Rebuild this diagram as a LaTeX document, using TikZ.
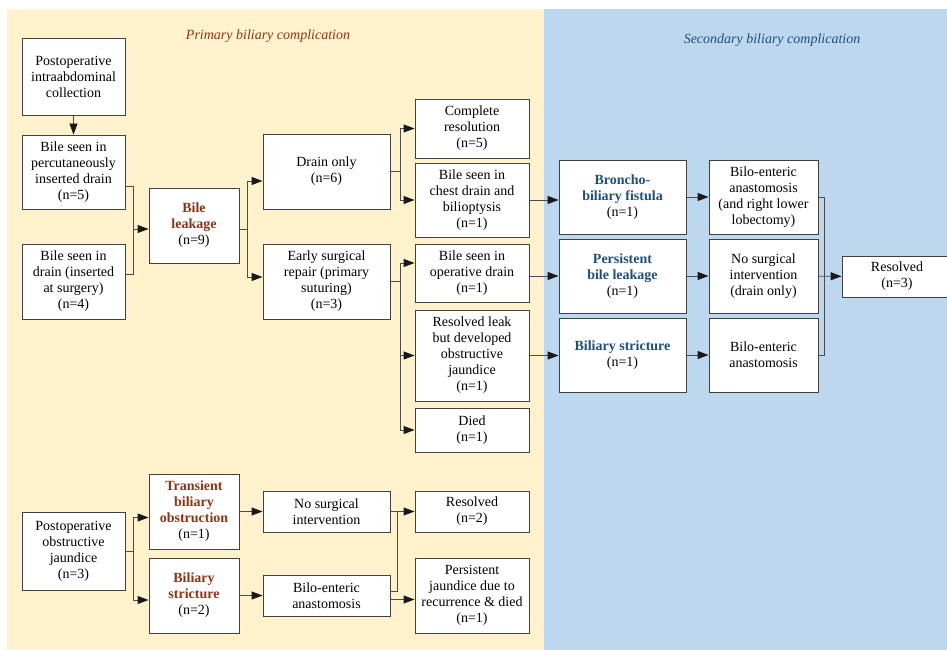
\documentclass[tikz,border=0pt]{standalone}
\usepackage{fontspec}
\setmainfont{Liberation Serif}
\usetikzlibrary{positioning,arrows.meta}
\definecolor{primbg}{HTML}{FFF2CC}
\definecolor{secbg}{HTML}{BDD7EE}
\definecolor{primtxt}{HTML}{8B3516}
\definecolor{sectxt}{HTML}{1F4E79}
\newcommand{\primlab}[1]{\textcolor{primtxt}{\textbf{#1}}}
\newcommand{\seclab}[1]{\textcolor{sectxt}{\textbf{#1}}}
\tikzset{
  box/.style 2 args={draw=black!75, fill=white, line width=0.9pt, align=center,
    inner sep=0pt, minimum width=#1, minimum height=#2,
    font=\fontsize{14}{16}\selectfont},
  link/.style={draw=black!70, line width=0.9pt},
  arr/.style={link, -{Triangle[length=11pt,width=8pt,color=black!90]}},
  heading/.style={font=\fontsize{14}{16}\selectfont\itshape},
}

\begin{document}
\begin{tikzpicture}[x=1pt,y=-1pt]
  \useasboundingbox (0,0) rectangle (947,650);
  \clip (0,0) rectangle (947,650);
  \fill[primbg] (7,9.5) rectangle (544,650);
  \fill[secbg] (544,9.5) rectangle (947,650);
  \node[heading, text=primtxt] (primhead) at (268,36) {Primary biliary complication};
  \node[heading, text=sectxt] (sechead) at (772,40) {Secondary biliary complication};

  % bile leakage branch
  \node[box={103pt}{77pt}] (ic) at (73.5,76.5) {Postoperative\\intraabdominal\\collection};
  \node[box={103pt}{74pt}] (perc) at (73.5,172) {Bile seen in\\percutaneously\\inserted drain\\(n=5)};
  \node[box={103pt}{75pt}] (surg) at (73.5,281.5) {Bile seen in\\drain (inserted\\at surgery)\\(n=4)};
  \node[box={90pt}{75pt}] (leak) at (194,225.5) {\primlab{Bile}\\\primlab{leakage}\\(n=9)};
  \node[box={127pt}{75pt}] (drain) at (326.5,171.5) {Drain only\\(n=6)};
  \node[box={127pt}{75pt}] (early) at (326.5,281.5) {Early surgical\\repair (primary\\suturing)\\(n=3)};
  \node[box={114pt}{59pt}] (compl) at (472,128.5) {Complete\\resolution\\(n=5)};
  \node[box={114pt}{74pt}] (chest) at (472,200) {Bile seen in\\chest drain and\\bilioptysis\\(n=1)};
  \node[box={114pt}{58pt}] (opdr) at (472,273) {Bile seen in\\operative drain\\(n=1)};
  \node[box={114pt}{91pt}] (rleak) at (472,355.5) {Resolved leak\\but developed\\obstructive\\jaundice\\(n=1)};
  \node[box={114pt}{44pt}] (died) at (472,430) {Died\\(n=1)};

  % secondary complications
  \node[box={127pt}{74pt}] (bronch) at (622.5,197) {\seclab{Broncho-}\\\seclab{biliary fistula}\\(n=1)};
  \node[box={127pt}{74pt}] (pers) at (622.5,276) {\seclab{Persistent}\\\seclab{bile leakage}\\(n=1)};
  \node[box={127pt}{74pt}] (strict) at (622.5,355) {\seclab{Biliary stricture}\\(n=1)};
  \node[box={109pt}{74pt}] (bilo1) at (763.5,197) {Bilo-enteric\\anastomosis\\(and right lower\\lobectomy)};
  \node[box={109pt}{74pt}] (nosurg) at (763.5,276) {No surgical\\intervention\\(drain only)};
  \node[box={109pt}{74pt}] (bilo2) at (763.5,355) {Bilo-enteric\\anastomosis};
  \node[box={110pt}{41pt}] (res3) at (897,276.5) {Resolved\\(n=3)};

  % obstructive jaundice branch
  \node[box={103pt}{78pt}] (poj) at (73.5,551) {Postoperative\\obstructive\\jaundice\\(n=3)};
  \node[box={90pt}{75pt}] (trans) at (194,511.5) {\primlab{Transient}\\\primlab{biliary}\\\primlab{obstruction}\\(n=1)};
  \node[box={90pt}{75pt}] (bstr) at (194,595.5) {\primlab{Biliary}\\\primlab{stricture}\\(n=2)};
  \node[box={127pt}{41pt}] (nosi) at (326.5,511.5) {No surgical\\intervention};
  \node[box={127pt}{41pt}] (bea) at (326.5,595.5) {Bilo-enteric\\anastomosis};
  \node[box={114pt}{41pt}] (res2) at (472,511.5) {Resolved\\(n=2)};
  \node[box={114pt}{75pt}] (pjd) at (472,595.5) {Persistent\\jaundice due to\\recurrence \& died\\(n=1)};

  % connectors
  \draw[arr] (ic) -- (perc);
  \coordinate (j1) at (133,229);
  \draw[link] ([yshift=-14pt]perc.east) -| (j1);
  \draw[link] ([yshift=7pt]surg.east) -| (j1);
  \draw[arr] (j1) -- (j1 -| leak.west);
  \coordinate (j2) at (247,229);
  \draw[link] (leak.east |- j2) -- (j2);
  \draw[arr] (j2) |- ([yshift=-9.5pt]drain.west);
  \draw[arr] (j2) |- ([yshift=4.5pt]early.west);
  \coordinate (j3) at (400,171.5);
  \draw[link] (drain) -- (j3);
  \draw[arr] (j3) |- (compl);
  \draw[arr] (j3) |- (chest);
  \coordinate (j4) at (400,281.5);
  \draw[link] (early) -- (j4);
  \draw[arr] (j4) |- ([yshift=10pt]opdr.west);
  \draw[arr] (j4) |- (rleak);
  \draw[arr] (j4) |- (died);
  \draw[arr] (chest) -- (chest -| bronch.west);
  \draw[arr] (opdr.east |- pers) -- (pers);
  \draw[arr] (rleak) -- (rleak -| strict.west);
  \draw[arr] (bronch) -- (bilo1);
  \draw[arr] (pers) -- (nosurg);
  \draw[arr] (strict) -- (bilo2);
  \coordinate (j5) at (824,276.5);
  \draw[link] (bilo1.east) -| (j5);
  \draw[link] (bilo2.east) -| (j5);
  \draw[arr] (nosurg) -- (res3);
  \coordinate (j6) at (133,551);
  \draw[link] (poj) -- (j6);
  \draw[arr] (j6) |- ([yshift=-6pt]trans.west);
  \draw[arr] (j6) |- ([yshift=-4.5pt]bstr.west);
  \draw[arr] (trans) -- (nosi);
  \draw[arr] (bstr) -- (bea);
  \coordinate (j7) at (397,511.5);
  \draw[arr] (nosi) -- (res2);
  \draw[link] ([yshift=4pt]bea.east) -| (j7);
  \draw[arr] ([yshift=-4pt]bea.east) -- ([yshift=-4pt]pjd.west);
\end{tikzpicture}
\end{document}
